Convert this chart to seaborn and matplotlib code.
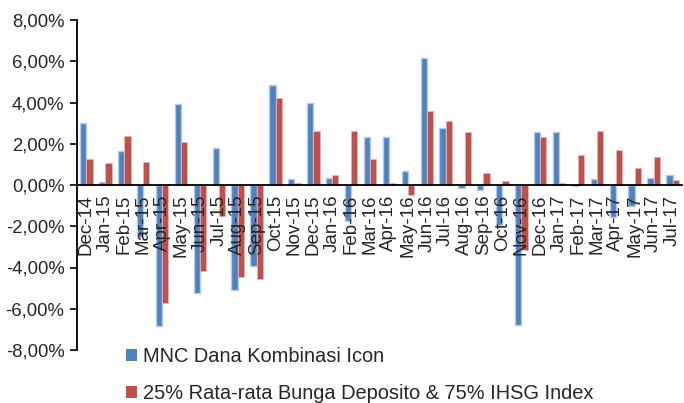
import numpy as np
import pandas as pd
import matplotlib
matplotlib.use("Agg")
import matplotlib.pyplot as plt
from matplotlib.patches import Patch
from matplotlib.ticker import FuncFormatter, FixedLocator
import seaborn as sns

months = ["Dec-14", "Jan-15", "Feb-15", "Mar-15", "Apr-15", "May-15", "Jun-15", "Jul-15",
          "Aug-15", "Sep-15", "Oct-15", "Nov-15", "Dec-15", "Jan-16", "Feb-16", "Mar-16",
          "Apr-16", "May-16", "Jun-16", "Jul-16", "Aug-16", "Sep-16", "Oct-16", "Nov-16",
          "Dec-16", "Jan-17", "Feb-17", "Mar-17", "Apr-17", "May-17", "Jun-17", "Jul-17"]
fund = [3.02, 0.16, 1.67, -2.51, -6.85, 3.92, -5.26, 1.81, -5.07, -3.92, 4.85, 0.29,
        3.96, 0.34, -1.75, 2.31, 2.31, 0.68, 6.15, 2.78, -0.16, -0.24, -1.94, -6.80,
        2.56, 2.56, -0.05, 0.29, -1.54, -1.02, 0.36, 0.49]
bench = [1.28, 1.05, 2.39, 1.12, -5.71, 2.09, -4.17, -1.49, -4.45, -4.58, 4.22, 0.10,
         2.64, 0.49, 2.64, 1.28, 0.10, -0.49, 3.59, 3.11, 2.56, 0.57, 0.18, -3.15,
         2.33, 0.10, 1.44, 2.64, 1.68, 0.81, 1.36, 0.24]
series_names = ["MNC Dana Kombinasi Icon", "25% Rata-rata Bunga Deposito & 75% IHSG Index"]
colors = ["#4F81BD", "#C0504D"]

df = pd.DataFrame({"month": months * 2,
                   "value": fund + bench,
                   "series": [series_names[0]] * len(months) + [series_names[1]] * len(months)})

sns.set_style("white")
plt.rcParams["font.family"] = ["Liberation Sans", "DejaVu Sans"]

fig = plt.figure(figsize=(6.84, 4.03), dpi=100)
ax = fig.add_axes([77 / 684, 1 - 350 / 403, (682 - 77) / 684, 330 / 403])

sns.barplot(data=df, x="month", y="value", hue="series", palette=colors,
            width=0.66, saturation=1, ax=ax, legend=False)

# soft glow on bars like the original
for p in ax.patches:
    fc = matplotlib.colors.to_hex(p.get_facecolor())
    if fc.lower() == colors[0].lower():
        p.set_edgecolor("#B7CBE6")
        p.set_linewidth(1.0)
    else:
        p.set_edgecolor("#E6B9B8")
        p.set_linewidth(0.5)

ax.set_axisbelow(False)
ax.set_xlim(-0.5, len(months) - 0.5)
ax.set_ylim(-8, 8)
ax.set_yticks(np.arange(-8, 9, 2))
ax.yaxis.set_major_formatter(FuncFormatter(lambda v, _: f"{v:.2f}%".replace(".", ",")))
ax.set_xlabel("")
ax.set_ylabel("")

for s in ["top", "right"]:
    ax.spines[s].set_visible(False)
ax.spines["bottom"].set_position(("data", 0))
ax.spines["left"].set_color("black")
ax.spines["bottom"].set_color("black")
ax.spines["left"].set_linewidth(1.3)
ax.spines["bottom"].set_linewidth(1.3)

ax.tick_params(axis="x", which="major", length=0, labelsize=13.5, rotation=90, pad=7)
ax.xaxis.set_minor_locator(FixedLocator(np.arange(0.5, len(months) - 0.5, 1)))
ax.tick_params(axis="x", which="minor", length=5, width=1.2, color="black", direction="out")
ax.tick_params(axis="y", length=5, width=1.2, color="black", direction="out",
               labelsize=13.3, left=True, pad=4)
for lbl in ax.get_xticklabels():
    lbl.set_verticalalignment("top")

handles = [Patch(facecolor=c, edgecolor="none") for c in colors]
fig.legend(handles, series_names, loc="upper left", bbox_to_anchor=(126 / 684, 1 - 347 / 403),
           frameon=False, fontsize=14.4, handlelength=0.55, handleheight=0.55,
           handletextpad=0.3, labelspacing=0.88, borderpad=0, borderaxespad=0)

fig.savefig("out.png", dpi=100)
